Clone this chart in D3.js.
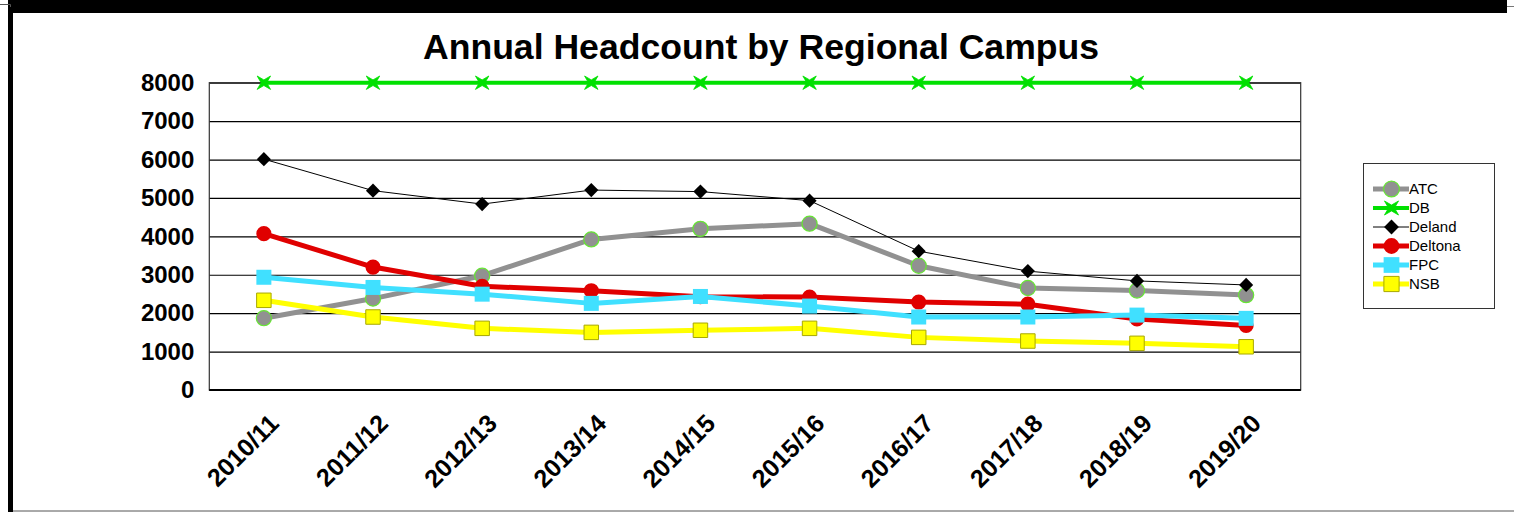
<!DOCTYPE html>
<html>
<head>
<meta charset="utf-8">
<script src="https://cdn.jsdelivr.net/npm/d3@7"></script>
<style>
  html, body { margin: 0; padding: 0; background: #fff; }
  svg { display: block; font-family: "Liberation Sans", Arial, sans-serif; }
</style>
</head>
<body>
<div id="chart"></div>
<script>
// Data
const years = ["2010/11", "2011/12", "2012/13", "2013/14", "2014/15", "2015/16", "2016/17", "2017/18", "2018/19", "2019/20"];
const atc = [1870, 2380, 2975, 3920, 4195, 4330, 3235, 2655, 2590, 2470];
const db = [8000, 8000, 8000, 8000, 8000, 8000, 8000, 8000, 8000, 8000];
const deland = [6010, 5190, 4840, 5205, 5165, 4930, 3615, 3095, 2840, 2735];
const deltona = [4070, 3200, 2700, 2585, 2430, 2420, 2290, 2235, 1850, 1680];
const fpc = [2935, 2670, 2495, 2255, 2435, 2185, 1900, 1900, 1950, 1865];
const nsb = [2335, 1900, 1605, 1500, 1555, 1605, 1370, 1275, 1215, 1125];
const yTicks = [0, 1000, 2000, 3000, 4000, 5000, 6000, 7000, 8000];

// four pointed star, used for the DB marker
const star4 = {
  draw(ctx, size) {
    const r = Math.sqrt(size) / 2, k = r * 0.42;
    ctx.moveTo(-r, -r);
    ctx.lineTo(0, -k);
    ctx.lineTo(r, -r);
    ctx.lineTo(k, 0);
    ctx.lineTo(r, r);
    ctx.lineTo(0, k);
    ctx.lineTo(-r, r);
    ctx.lineTo(-k, 0);
    ctx.closePath();
  }
};

// diamond with equal diagonals
const diamond = {
  draw(ctx, size) {
    const r = Math.sqrt(size) / 2;
    ctx.moveTo(0, -r);
    ctx.lineTo(r, 0);
    ctx.lineTo(0, r);
    ctx.lineTo(-r, 0);
    ctx.closePath();
  }
};

const series = [
  { name: "ATC", values: atc, color: "#919191", width: 5, symbol: d3.symbolCircle, size: 180, fill: "#919191", stroke: "#66e633", sw: 1.2 },
  { name: "DB", values: db, color: "#00e000", width: 4, symbol: star4, size: 180, fill: "#00e000", stroke: "#00e000", sw: 0.8 },
  { name: "Deland", values: deland, color: "#000000", width: 1, symbol: diamond, size: 200, fill: "#000000", stroke: "none", sw: 0 },
  { name: "Deltona", values: deltona, color: "#e00000", width: 5, symbol: d3.symbolCircle, size: 180, fill: "#e00000", stroke: "none", sw: 0 },
  { name: "FPC", values: fpc, color: "#40e0ff", width: 5, symbol: d3.symbolSquare, size: 225, fill: "#40e0ff", stroke: "none", sw: 0 },
  { name: "NSB", values: nsb, color: "#ffff00", width: 5, symbol: d3.symbolSquare, size: 210, fill: "#ffff00", stroke: "#a8a800", sw: 1 }
];

const W = 1514, H = 513;
const plot = { left: 209.3, right: 1300.7, top: 82.7, bottom: 390 };

const svg = d3.select("#chart").append("svg")
  .attr("width", W)
  .attr("height", H);

// outer frame
svg.append("rect").attr("x", 11).attr("y", 0).attr("width", 1496).attr("height", 13).attr("fill", "#000");
svg.append("rect").attr("x", 8).attr("y", 0).attr("width", 5).attr("height", 512).attr("fill", "#000");
svg.append("line").attr("x1", 13).attr("x2", W).attr("y1", 511).attr("y2", 511)
  .attr("stroke", "#555").attr("stroke-width", 1);
svg.append("path").attr("d", "M0,4.5H10.5V7").attr("fill", "none").attr("stroke", "#555").attr("stroke-width", 1);
svg.append("path").attr("d", "M1507,6.5H1514").attr("fill", "none").attr("stroke", "#777").attr("stroke-width", 1);

// Title
svg.append("text")
  .attr("x", 761)
  .attr("y", 59)
  .attr("text-anchor", "middle")
  .attr("font-size", "35.6px")
  .attr("font-weight", "bold")
  .text("Annual Headcount by Regional Campus");

// Scales
const x = d3.scalePoint()
  .domain(years)
  .range([plot.left, plot.right])
  .padding(0.5);

const y = d3.scaleLinear()
  .domain([0, 8000])
  .range([plot.bottom, plot.top]);

// Gridlines
svg.append("g")
  .attr("transform", `translate(${plot.left},0)`)
  .call(d3.axisLeft(y).tickValues(yTicks).tickSize(-(plot.right - plot.left)).tickFormat(""))
  .call(g => g.select(".domain").remove())
  .call(g => g.selectAll(".tick line").attr("stroke", "#000").attr("stroke-width", 1.2));

// Plot frame
svg.append("rect")
  .attr("x", plot.left)
  .attr("y", plot.top)
  .attr("width", plot.right - plot.left)
  .attr("height", plot.bottom - plot.top)
  .attr("fill", "none")
  .attr("stroke", "#333")
  .attr("stroke-width", 1.2);
svg.append("line")
  .attr("x1", plot.left).attr("x2", plot.right)
  .attr("y1", plot.bottom).attr("y2", plot.bottom)
  .attr("stroke", "#000").attr("stroke-width", 2);

// Y axis labels
svg.append("g")
  .attr("transform", `translate(${plot.left},0)`)
  .call(d3.axisLeft(y).tickValues(yTicks).tickSize(0).tickPadding(15).tickFormat(d3.format("d")))
  .call(g => g.select(".domain").remove())
  .selectAll("text")
  .attr("font-family", "Liberation Sans, Arial, sans-serif")
  .attr("font-size", "24px")
  .attr("font-weight", "bold")
  .attr("fill", "#000");

// X axis labels
svg.append("g")
  .attr("transform", `translate(0,${plot.bottom})`)
  .call(d3.axisBottom(x).tickSize(0).tickPadding(0))
  .call(g => g.select(".domain").remove())
  .selectAll("text")
  .attr("font-family", "Liberation Sans, Arial, sans-serif")
  .attr("font-size", "25px")
  .attr("font-weight", "bold")
  .attr("fill", "#000")
  .style("text-anchor", "end")
  .attr("x", 0)
  .attr("y", 0)
  .attr("dy", 0)
  .attr("transform", "translate(16,35) rotate(-45)");

// Lines and markers
const line = d3.line()
  .x((d, i) => x(years[i]))
  .y(d => y(d));

series.forEach(s => {
  const g = svg.append("g").attr("class", "series");
  g.append("path")
    .datum(s.values)
    .attr("fill", "none")
    .attr("stroke", s.color)
    .attr("stroke-width", s.width)
    .attr("stroke-linejoin", "round")
    .attr("d", line);
  g.selectAll("path.marker")
    .data(s.values)
    .enter()
    .append("path")
    .attr("class", "marker")
    .attr("transform", (d, i) => `translate(${x(years[i])},${y(d)})`)
    .attr("d", d3.symbol().type(s.symbol).size(s.size))
    .attr("fill", s.fill)
    .attr("stroke", s.stroke)
    .attr("stroke-width", s.sw);
});

// Legend
const legend = svg.append("g");
legend.append("rect")
  .attr("x", 1363.5)
  .attr("y", 163.5)
  .attr("width", 131)
  .attr("height", 145)
  .attr("fill", "#fff")
  .attr("stroke", "#333")
  .attr("stroke-width", 1);

const rows = legend.selectAll("g.row")
  .data(series)
  .enter()
  .append("g")
  .attr("class", "row")
  .attr("transform", (d, i) => `translate(0,${189 + i * 19})`);

rows.append("line")
  .attr("x1", 1373).attr("x2", 1409)
  .attr("stroke", d => d.color)
  .attr("stroke-width", d => d.width);

rows.append("path")
  .attr("transform", "translate(1391.5,0)")
  .attr("d", d => d3.symbol().type(d.symbol).size(d.size * 1.1)())
  .attr("fill", d => d.fill)
  .attr("stroke", d => d.stroke)
  .attr("stroke-width", d => d.sw);

rows.append("text")
  .attr("x", 1409)
  .attr("y", 0)
  .attr("dy", "0.35em")
  .attr("font-size", "15px")
  .text(d => d.name);
</script>
</body>
</html>
